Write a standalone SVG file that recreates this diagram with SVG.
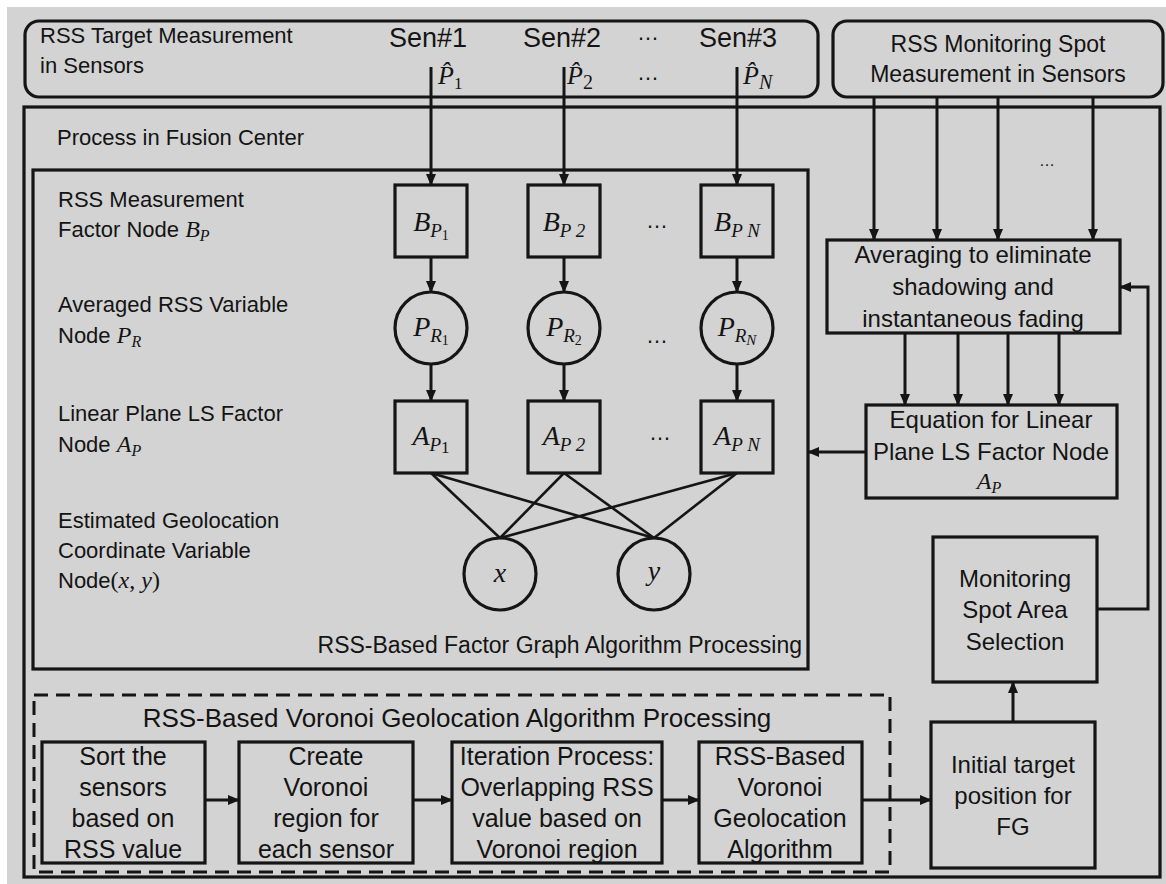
<svg xmlns="http://www.w3.org/2000/svg" width="1166" height="884" viewBox="0 0 1166 884">
<defs>
<style>
.bx{fill:none;stroke:#151515;stroke-width:3.2}
.ds{fill:none;stroke:#151515;stroke-width:3;stroke-dasharray:14 8}
.ln{fill:none;stroke:#151515;stroke-width:3}
.xl{fill:none;stroke:#151515;stroke-width:2.6}
.ar{fill:none;stroke:#151515;stroke-width:3;marker-end:url(#ah)}
.t{font-family:"Liberation Sans",Arial,sans-serif;fill:#141414;font-size:22px}
.b{font-size:25px}
.r{font-size:24px}
.c{text-anchor:middle}
.m{font-family:"Liberation Serif","Times New Roman",serif;font-style:italic;fill:#141414}
</style>
<marker id="ah" markerUnits="userSpaceOnUse" markerWidth="12" markerHeight="10" refX="11" refY="5" orient="auto"><path d="M0,0 L12,5 L0,10 z" fill="#151515"/></marker>
</defs>
<rect x="0" y="0" width="1166" height="884" fill="#ffffff"/>
<rect x="7" y="7" width="1159" height="877" fill="#d3d3d3"/>

<g id="target-measurement">
<rect class="bx" x="25" y="21" width="793" height="76" rx="14"/>
<text class="t" x="40" y="43">RSS Target Measurement</text>
<text class="t" x="40" y="73">in Sensors</text>
<text class="t c" x="428" y="47" style="font-size:27px">Sen#1</text>
<text class="t c" x="562" y="47" style="font-size:27px">Sen#2</text>
<text class="t c" x="648" y="40" style="font-size:22px">…</text>
<text class="t c" x="738" y="47" style="font-size:27px">Sen#3</text>
<text class="m" x="438" y="84" font-size="26">P̂<tspan font-style="normal" font-size="17" dy="5">1</tspan></text>
<text class="m" x="567" y="84" font-size="26">P̂<tspan font-style="normal" font-size="20" dy="5">2</tspan></text>
<text class="t c" x="648" y="80" style="font-size:22px">…</text>
<text class="m" x="743" y="84" font-size="26">P̂<tspan font-size="20" dy="5">N</tspan></text>
</g>

<g id="monitoring-measurement">
<rect class="bx" x="833" y="21" width="330" height="76" rx="14"/>
<text class="t c" x="998" y="52" style="font-size:23px">RSS Monitoring Spot</text>
<text class="t c" x="998" y="82" style="font-size:23px">Measurement in Sensors</text>
</g>

<g id="fusion-center">
<rect class="bx" x="24" y="107" width="1136" height="770"/>
<text class="t" x="57" y="145">Process in Fusion Center</text>
<text class="t c" x="1047" y="166" style="font-size:16px">…</text>
</g>

<g id="factor-graph">
<rect class="bx" x="33" y="170" width="775" height="499"/>
<text class="t" x="58" y="207">RSS Measurement</text>
<text class="t" x="58" y="237">Factor Node <tspan class="m" font-size="24">B</tspan><tspan class="m" font-size="16" dy="4">P</tspan></text>
<text class="t" x="58" y="312">Averaged RSS Variable</text>
<text class="t" x="58" y="343">Node <tspan class="m" font-size="24">P</tspan><tspan class="m" font-size="16" dy="4">R</tspan></text>
<text class="t" x="58" y="421">Linear Plane LS Factor</text>
<text class="t" x="58" y="452">Node <tspan class="m" font-size="24">A</tspan><tspan class="m" font-size="16" dy="4">P</tspan></text>
<text class="t" x="58" y="528">Estimated Geolocation</text>
<text class="t" x="58" y="558">Coordinate Variable</text>
<text class="t" x="58" y="588">Node<tspan font-family="Liberation Serif" font-size="24">(<tspan font-style="italic">x</tspan>, <tspan font-style="italic">y</tspan>)</tspan></text>
<text class="t" x="802" y="653" text-anchor="end" style="font-size:23px">RSS-Based Factor Graph Algorithm Processing</text>
<text class="t c" x="657" y="228" style="font-size:22px">…</text>
<text class="t c" x="657" y="343" style="font-size:22px">…</text>
<text class="t c" x="660" y="440" style="font-size:22px">…</text>
</g>

<g id="node-BP1"><rect class="bx" x="395" y="185" width="72" height="72"/>
<text class="m c" x="431" y="231" font-size="28">B<tspan font-size="19" dy="6">P</tspan><tspan font-size="14" font-style="normal" dy="3">1</tspan></text></g>
<g id="node-BP2"><rect class="bx" x="528" y="185" width="72" height="72"/>
<text class="m c" x="564" y="231" font-size="28">B<tspan font-size="19" dy="6">P 2</tspan></text></g>
<g id="node-BPN"><rect class="bx" x="701" y="185" width="72" height="72"/>
<text class="m c" x="737" y="231" font-size="28">B<tspan font-size="19" dy="6">P N</tspan></text></g>

<g id="node-PR1"><circle class="bx" cx="431" cy="328" r="36"/>
<text class="m c" x="431" y="336" font-size="28">P<tspan font-size="19" dy="6">R</tspan><tspan font-size="14" font-style="normal" dy="3">1</tspan></text></g>
<g id="node-PR2"><circle class="bx" cx="564" cy="328" r="36"/>
<text class="m c" x="564" y="336" font-size="28">P<tspan font-size="19" dy="6">R</tspan><tspan font-size="14" font-style="normal" dy="3">2</tspan></text></g>
<g id="node-PRN"><circle class="bx" cx="737" cy="328" r="36"/>
<text class="m c" x="737" y="336" font-size="28">P<tspan font-size="19" dy="6">R</tspan><tspan font-size="15" dy="3">N</tspan></text></g>

<g id="node-AP1"><rect class="bx" x="395" y="401" width="72" height="72"/>
<text class="m c" x="431" y="445" font-size="28">A<tspan font-size="19" dy="6">P</tspan><tspan font-size="17" font-style="normal" dy="2">1</tspan></text></g>
<g id="node-AP2"><rect class="bx" x="528" y="401" width="72" height="72"/>
<text class="m c" x="564" y="445" font-size="28">A<tspan font-size="19" dy="6">P 2</tspan></text></g>
<g id="node-APN"><rect class="bx" x="701" y="401" width="72" height="72"/>
<text class="m c" x="737" y="445" font-size="28">A<tspan font-size="19" dy="6">P N</tspan></text></g>

<g id="node-x"><circle class="bx" cx="500" cy="574" r="36"/>
<text class="m c" x="500" y="582" font-size="28">x</text></g>
<g id="node-y"><circle class="bx" cx="654" cy="574" r="36"/>
<text class="m c" x="654" y="580" font-size="28">y</text></g>

<g id="averaging">
<rect class="bx" x="827" y="240" width="293" height="93"/>
<text class="t c r" x="973" y="263">Averaging to eliminate</text>
<text class="t c r" x="973" y="295">shadowing and</text>
<text class="t c r" x="973" y="327">instantaneous fading</text>
</g>

<g id="equation">
<rect class="bx" x="866" y="405" width="251" height="93"/>
<text class="t c r" x="991" y="428">Equation for Linear</text>
<text class="t c r" x="991" y="460">Plane LS Factor Node</text>
<text class="m c" x="989" y="489" font-size="24">A<tspan font-size="16" dy="4">P</tspan></text>
</g>

<g id="spot-selection">
<rect class="bx" x="933" y="537" width="164" height="145"/>
<text class="t c r" x="1015" y="587">Monitoring</text>
<text class="t c r" x="1015" y="618">Spot Area</text>
<text class="t c r" x="1015" y="650">Selection</text>
</g>

<g id="initial-position">
<rect class="bx" x="931" y="722" width="164" height="146"/>
<text class="t c r" x="1013" y="773">Initial target</text>
<text class="t c r" x="1013" y="804">position for</text>
<text class="t c r" x="1013" y="835">FG</text>
</g>

<g id="voronoi-processing">
<rect class="ds" x="34" y="695" width="856" height="177"/>
<text class="t c" x="457" y="727" style="font-size:26px">RSS-Based Voronoi Geolocation Algorithm Processing</text>
</g>

<g id="sort-sensors">
<rect class="bx" x="42" y="742" width="163" height="121"/>
<text class="t c b" x="123" y="765">Sort the</text>
<text class="t c b" x="123" y="796">sensors</text>
<text class="t c b" x="123" y="827">based on</text>
<text class="t c b" x="123" y="858">RSS value</text>
</g>

<g id="create-voronoi">
<rect class="bx" x="239" y="742" width="174" height="121"/>
<text class="t c b" x="326" y="765">Create</text>
<text class="t c b" x="326" y="796">Voronoi</text>
<text class="t c b" x="326" y="827">region for</text>
<text class="t c b" x="326" y="858">each sensor</text>
</g>

<g id="iteration">
<rect class="bx" x="452" y="742" width="210" height="121"/>
<text class="t c b" x="557" y="765">Iteration Process:</text>
<text class="t c b" x="557" y="796">Overlapping RSS</text>
<text class="t c b" x="557" y="827">value based on</text>
<text class="t c b" x="557" y="858">Voronoi region</text>
</g>

<g id="voronoi-algorithm">
<rect class="bx" x="699" y="742" width="163" height="121"/>
<text class="t c b" x="780" y="765">RSS-Based</text>
<text class="t c b" x="780" y="796">Voronoi</text>
<text class="t c b" x="780" y="827">Geolocation</text>
<text class="t c b" x="780" y="858">Algorithm</text>
</g>

<g id="connectors">
<line class="ar" x1="431" y1="67" x2="431" y2="185"/>
<line class="ar" x1="564" y1="67" x2="564" y2="185"/>
<line class="ar" x1="737" y1="67" x2="737" y2="185"/>
<line class="ar" x1="431" y1="257" x2="431" y2="292"/>
<line class="ar" x1="564" y1="257" x2="564" y2="292"/>
<line class="ar" x1="737" y1="257" x2="737" y2="292"/>
<line class="ar" x1="431" y1="364" x2="431" y2="401"/>
<line class="ar" x1="564" y1="364" x2="564" y2="401"/>
<line class="ar" x1="737" y1="364" x2="737" y2="401"/>
<line class="xl" x1="431" y1="473" x2="500" y2="538"/>
<line class="xl" x1="431" y1="473" x2="654" y2="538"/>
<line class="xl" x1="564" y1="473" x2="500" y2="538"/>
<line class="xl" x1="564" y1="473" x2="654" y2="538"/>
<line class="xl" x1="737" y1="473" x2="500" y2="538"/>
<line class="xl" x1="737" y1="473" x2="654" y2="538"/>
<line class="ar" x1="874" y1="97" x2="874" y2="240"/>
<line class="ar" x1="937" y1="97" x2="937" y2="240"/>
<line class="ar" x1="998" y1="97" x2="998" y2="240"/>
<line class="ar" x1="1093" y1="97" x2="1093" y2="240"/>
<line class="ar" x1="905" y1="333" x2="905" y2="405"/>
<line class="ar" x1="958" y1="333" x2="958" y2="405"/>
<line class="ar" x1="1008" y1="333" x2="1008" y2="405"/>
<line class="ar" x1="1059" y1="333" x2="1059" y2="405"/>
<line class="ar" x1="866" y1="452" x2="808" y2="452"/>
<polyline class="ar" points="1097,609 1148,609 1148,287 1120,287"/>
<line class="ar" x1="1013" y1="722" x2="1013" y2="682"/>
<line class="ar" x1="205" y1="800" x2="239" y2="800"/>
<line class="ar" x1="413" y1="800" x2="452" y2="800"/>
<line class="ar" x1="662" y1="800" x2="699" y2="800"/>
<line class="ar" x1="862" y1="800" x2="931" y2="800"/>
</g>
</svg>
